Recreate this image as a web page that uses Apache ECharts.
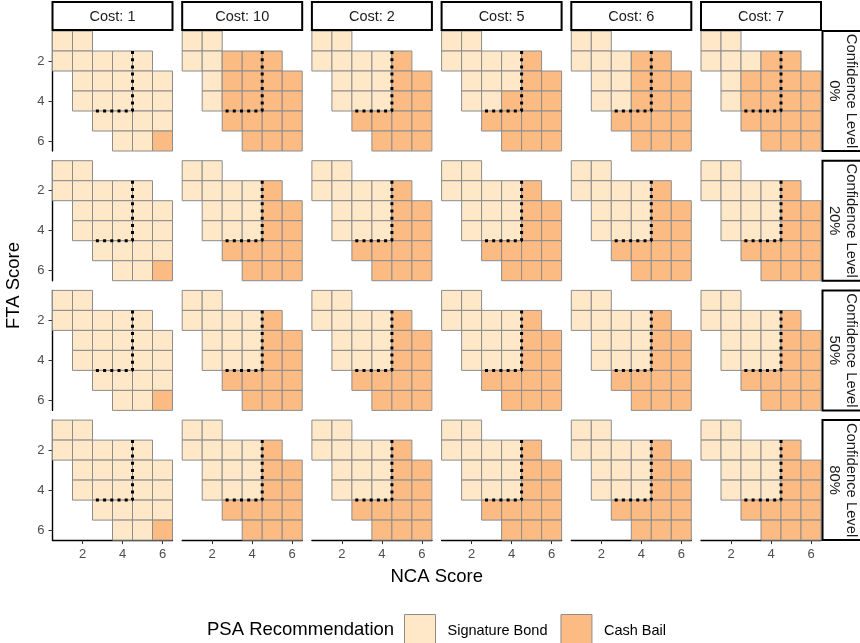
<!DOCTYPE html>
<html>
<head>
<meta charset="utf-8">
<script src="https://cdn.jsdelivr.net/npm/echarts@6/dist/echarts.min.js"></script>
<style>html,body{margin:0;padding:0;background:#fff;}#chart{width:860px;height:643px;}</style>
</head>
<body>
<div id="chart"></div>
<script>
// ---- data ----
const costLabels = ['Cost: 1', 'Cost: 10', 'Cost: 2', 'Cost: 5', 'Cost: 6', 'Cost: 7'];
const confidenceLabels = ['0%', '20%', '50%', '80%'];
const ncaTicks = [2, 4, 6];
const ftaTicks = [2, 4, 6];
// grid cells present in every panel (NCA score, FTA score)
const ncaScores = [1, 2, 1, 2, 3, 4, 5, 2, 3, 4, 5, 6, 2, 3, 4, 5, 6, 3, 4, 5, 6, 4, 5, 6];
const ftaScores = [1, 1, 2, 2, 2, 2, 2, 3, 3, 3, 3, 3, 4, 4, 4, 4, 4, 5, 5, 5, 5, 6, 6, 6];
// recommendation per cell (S = Signature Bond, C = Cash Bail), one string per cost panel
const recConf0 = [
  'SS SSSSS SSSSS SSSSS SSSS SSC',
  'SS SSCCC SCCCC SCCCC CCCC CCC',
  'SS SSSSC SSSCC SSSCC CCCC CCC',
  'SS SSSSC SSSCC SSCCC CCCC CCC',
  'SS SSSCC SSCCC SSCCC CCCC CCC',
  'SS SSSCC SCCCC SCCCC CCCC CCC'
];
const recConf20 = [
  'SS SSSSS SSSSS SSSSS SSSS SSC',
  'SS SSSSC SSSCC SSSCC CCCC CCC',
  'SS SSSSC SSSCC SSSCC CCCC CCC',
  'SS SSSSC SSSCC SSSCC CCCC CCC',
  'SS SSSSC SSSCC SSSCC CCCC CCC',
  'SS SSSSC SSSCC SSSCC CCCC CCC'
];
const recConf50 = [
  'SS SSSSS SSSSS SSSSS SSSS SSC',
  'SS SSSSC SSSCC SSSCC CCCC CCC',
  'SS SSSSC SSSCC SSSCC CCCC CCC',
  'SS SSSSC SSSCC SSSCC CCCC CCC',
  'SS SSSSC SSSCC SSSCC CCCC CCC',
  'SS SSSSC SSSCC SSSCC CCCC CCC'
];
const recConf80 = [
  'SS SSSSS SSSSS SSSSS SSSS SSC',
  'SS SSSSC SSSCC SSSCC CCCC CCC',
  'SS SSSSC SSSCC SSSCC CCCC CCC',
  'SS SSSSC SSSCC SSSCC CCCC CCC',
  'SS SSSSC SSSCC SSSCC CCCC CCC',
  'SS SSSSC SSSCC SSSCC CCCC CCC'
];
const recByLevel = [recConf0, recConf20, recConf50, recConf80];
// dotted boundary (threshold) line
const boundaryNCA = [4.5, 4.5, 2.5];
const boundaryFTA = [1.5, 4.5, 4.5];
const categoryNames = ['Signature Bond', 'Cash Bail'];
const categoryCodes = ['S', 'C'];

// ---- styling / layout ----
const COLORS = ['#FEE8C8', '#FDBB84'];
const CELL_BORDER = '#8C8C8C';
const FONT = '"Liberation Sans", Arial, Helvetica, sans-serif';
const PX0 = 52.5, PY0 = 31, STEP = 129.7, PW = 120, PH = 120;

const grids = [], xAxes = [], yAxes = [], series = [], graphics = [];

confidenceLabels.forEach((lvl, r) => {
  costLabels.forEach((cost, c) => {
    const idx = r * costLabels.length + c;
    const left = PX0 + c * STEP, top = PY0 + r * STEP;
    grids.push({ left: left, top: top, width: PW, height: PH });
    const showX = r === confidenceLabels.length - 1;
    const showY = c === 0;
    xAxes.push({
      gridIndex: idx, type: 'value', min: 0.5, max: 6.5,
      axisLine: { show: showX, onZero: false, lineStyle: { color: '#000', width: 1.4 } },
      axisTick: { show: showX, length: 4, lineStyle: { color: '#333' }, customValues: ncaTicks },
      axisLabel: { show: showX, color: '#4D4D4D', fontSize: 13, fontFamily: FONT, margin: 8, customValues: ncaTicks },
      splitLine: { show: false }
    });
    yAxes.push({
      gridIndex: idx, type: 'value', min: 0.5, max: 6.5, inverse: true,
      axisLine: { show: showY, onZero: false, lineStyle: { color: '#000', width: 1.4 } },
      axisTick: { show: showY, length: 4, lineStyle: { color: '#333' }, customValues: ftaTicks },
      axisLabel: { show: showY, color: '#4D4D4D', fontSize: 13, fontFamily: FONT, margin: 8, customValues: ftaTicks },
      splitLine: { show: false }
    });
    const codes = recByLevel[r][c].replace(/ /g, '');
    categoryNames.forEach((name, k) => {
      const data = [];
      for (let i = 0; i < ncaScores.length; i++) {
        if (codes[i] === categoryCodes[k]) data.push([ncaScores[i], ftaScores[i]]);
      }
      series.push({
        type: 'custom', name: name, xAxisIndex: idx, yAxisIndex: idx,
        itemStyle: { color: COLORS[k], borderColor: CELL_BORDER, borderWidth: 1 },
        silent: true, z: 2,
        renderItem: function (params, api) {
          const x = api.value(0), y = api.value(1);
          const p1 = api.coord([x - 0.5, y - 0.5]);
          const p2 = api.coord([x + 0.5, y + 0.5]);
          return {
            type: 'rect',
            shape: { x: Math.min(p1[0], p2[0]), y: Math.min(p1[1], p2[1]),
                     width: Math.abs(p2[0] - p1[0]), height: Math.abs(p2[1] - p1[1]) },
            style: { fill: api.visual('color'), stroke: CELL_BORDER, lineWidth: 1 }
          };
        },
        data: data
      });
    });
    series.push({
      type: 'line', xAxisIndex: idx, yAxisIndex: idx, silent: true, z: 5,
      symbol: 'none', animation: false,
      lineStyle: { color: '#000', width: 3, type: [3, 4.2], cap: 'butt' },
      data: boundaryNCA.map((v, i) => [v, boundaryFTA[i]])
    });
    // top strips (first row only)
    if (r === 0) {
      graphics.push({ type: 'rect', shape: { x: left, y: 2, width: PW, height: 28 },
        style: { fill: '#fff', stroke: '#000', lineWidth: 2 }, z: 10 });
      graphics.push({ type: 'text', x: left + PW / 2, y: 16.5, z: 11,
        style: { text: cost, align: 'center', verticalAlign: 'middle', fontSize: 14.5, fontFamily: FONT, fill: '#1A1A1A' } });
    }
    // right strips (last column only)
    if (c === costLabels.length - 1) {
      const sx = left + PW + 1.5;
      graphics.push({ type: 'rect', shape: { x: sx, y: top, width: 60, height: PH },
        style: { fill: '#fff', stroke: '#000', lineWidth: 2 }, z: 10 });
      graphics.push({ type: 'text', x: sx + 20, y: top + PH / 2, rotation: -Math.PI / 2, z: 11,
        style: { text: 'Confidence Level\n' + lvl, align: 'center', verticalAlign: 'middle', fontSize: 14.8,
                 lineHeight: 17, fontFamily: FONT, fill: '#1A1A1A' } });
    }
  });
});

// axis titles and legend title
graphics.push({ type: 'text', x: 14, y: PY0 + (3 * STEP + PH) / 2, rotation: Math.PI / 2,
  style: { text: 'FTA Score', align: 'center', verticalAlign: 'middle', fontSize: 18.5, fontFamily: FONT, fill: '#000' } });
graphics.push({ type: 'text', x: PX0 + (5 * STEP + PW) / 2, y: 577,
  style: { text: 'NCA Score', align: 'center', verticalAlign: 'middle', fontSize: 18.5, fontFamily: FONT, fill: '#000' } });
graphics.push({ type: 'text', x: 207, y: 630,
  style: { text: 'PSA Recommendation', align: 'left', verticalAlign: 'middle', fontSize: 18.5, fontFamily: FONT, fill: '#000' } });

const chart = echarts.init(document.getElementById('chart'), null, { renderer: 'canvas' });
chart.setOption({
  animation: false,
  backgroundColor: '#fff',
  grid: grids,
  xAxis: xAxes,
  yAxis: yAxes,
  legend: {
    left: 404, top: 614, padding: 0, orient: 'horizontal', selectedMode: false,
    itemWidth: 31, itemHeight: 32, itemGap: 13,
    textStyle: { fontSize: 14.5, fontFamily: FONT, color: '#000', padding: [0, 0, 0, 7] },
    data: categoryNames.map((n, k) => ({ name: n, icon: 'rect',
      itemStyle: { color: COLORS[k], borderColor: CELL_BORDER, borderWidth: 1 } }))
  },
  series: series,
  graphic: graphics
});
</script>
</body>
</html>
